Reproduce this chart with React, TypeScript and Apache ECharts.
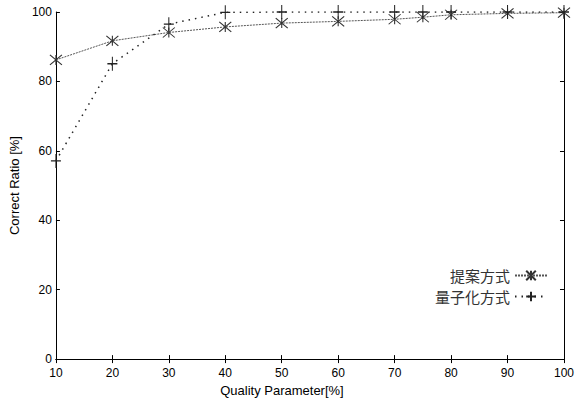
import React, { useEffect, useRef } from "react";
import * as echarts from "echarts";

const quality = [10, 20, 30, 40, 50, 60, 70, 75, 80, 90, 100];
const proposed = [86.2, 91.7, 94.1, 95.7, 96.8, 97.3, 97.9, 98.5, 99.2, 99.6, 99.8];
const quantized = [57.1, 85.1, 96.5, 99.9, 100, 100, 100, 100, 100, 100, 100];
const seriesNames = ["提案方式", "量子化方式"];
const xTitle = "Quality Parameter[%]";
const yTitle = "Correct Ratio [%]";

const crossPath = "path://M0,0 L12,10 M12,0 L0,10 M6,0 L6,10";
const plusPath = "path://M5,0 L5,14 M0,7 L10,7";

export default function App() {
  const ref = useRef<HTMLDivElement>(null);
  useEffect(() => {
    if (!ref.current) return;
    const chart = echarts.init(ref.current, undefined, { renderer: "svg" });
    const font = "'Liberation Sans', Arial, sans-serif";
    const axisCommon = {
      axisLine: { show: true, lineStyle: { color: "#000", width: 1 } },
      axisTick: { show: true, inside: true, length: 4, lineStyle: { color: "#000" } },
      splitLine: { show: false },
    };
    chart.setOption({
      animation: false,
      backgroundColor: "#fff",
      textStyle: { fontFamily: font },
      grid: { left: 48, right: 8, top: 12, bottom: 37, containLabel: false },
      legend: {
        orient: "vertical",
        right: 29,
        top: 268,
        padding: 0,
        align: "right",
        itemWidth: 32,
        itemHeight: 12,
        itemGap: 6,
        textStyle: { fontFamily: "'Noto Sans CJK JP', sans-serif", fontSize: 15, color: "#333" },
        data: seriesNames,
      },
      xAxis: [
        {
          type: "value",
          min: 10,
          max: 100,
          interval: 10,
          name: xTitle,
          nameLocation: "middle",
          nameGap: 22,
          nameTextStyle: { fontSize: 13, color: "#000", fontFamily: font, padding: [0, 56, 0, 0] },
          axisLabel: { fontSize: 12, color: "#000", margin: 8, fontFamily: font },
          ...axisCommon,
        },
        {
          type: "value",
          position: "top",
          min: 10,
          max: 100,
          interval: 10,
          axisLabel: { show: false },
          ...axisCommon,
        },
      ],
      yAxis: [
        {
          type: "value",
          min: 0,
          max: 100,
          interval: 20,
          name: yTitle,
          nameLocation: "middle",
          nameGap: 26,
          nameTextStyle: { fontSize: 13, color: "#000", fontFamily: font },
          axisLabel: { fontSize: 12, color: "#000", margin: 4, fontFamily: font },
          ...axisCommon,
        },
        {
          type: "value",
          position: "right",
          min: 0,
          max: 100,
          interval: 20,
          axisLabel: { show: false },
          ...axisCommon,
        },
      ],
      series: [
        {
          name: seriesNames[0],
          type: "line",
          data: quality.map((q, i) => [q, proposed[i]]),
          symbol: crossPath,
          symbolSize: [12, 10],
          lineStyle: { color: "#555", width: 1, type: [2, 1] },
          itemStyle: { color: "transparent", borderColor: "#333", borderWidth: 1 },
          z: 3,
        },
        {
          name: seriesNames[1],
          type: "line",
          data: quality.map((q, i) => [q, quantized[i]]),
          symbol: plusPath,
          symbolSize: [10, 14],
          lineStyle: { color: "#222", width: 1.5, type: [1.5, 5] },
          itemStyle: { color: "transparent", borderColor: "#222", borderWidth: 1.2 },
          z: 4,
        },
      ],
    });
    return () => chart.dispose();
  }, []);
  return (
    <div
      ref={ref}
      style={{ position: "absolute", left: 0, top: 0, width: 577, height: 402 }}
    />
  );
}
